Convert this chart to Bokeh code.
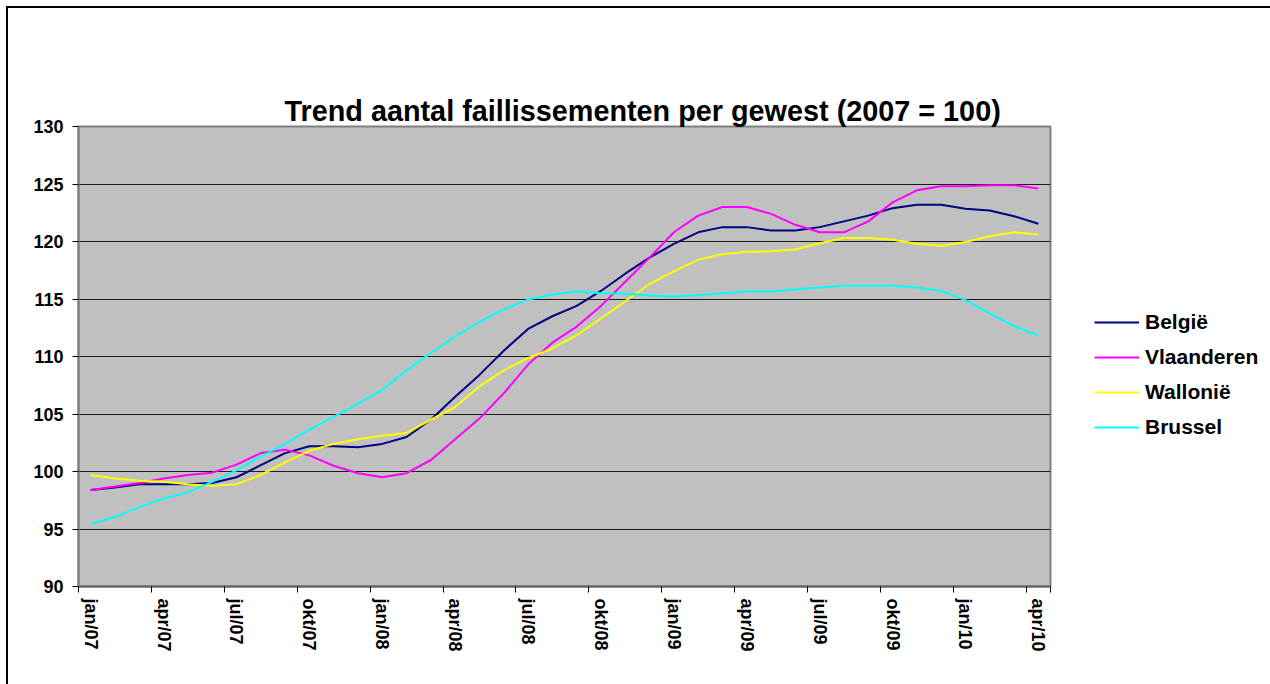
from bokeh.plotting import figure
from bokeh.layouts import row
from bokeh.models import Range1d, FixedTicker, Legend, LegendItem, Title
from bokeh.embed import file_html
from bokeh.resources import INLINE

# ---- data -------------------------------------------------------------
tick_labels = ["jan/07", "apr/07", "jul/07", "okt/07", "jan/08", "apr/08", "jul/08",
               "okt/08", "jan/09", "apr/09", "jul/09", "okt/09", "jan/10", "apr/10"]
months = list(range(40))  # jan/07 .. apr/10, monthly

belgie = [98.4, 98.6, 98.9, 98.9, 98.9, 99.0, 99.5, 100.55, 101.6, 102.2,
          102.2, 102.1, 102.4, 103.0, 104.5, 106.5, 108.4, 110.5, 112.4, 113.5,
          114.4, 115.7, 117.2, 118.6, 119.8, 120.8, 121.25, 121.25, 120.95, 120.95,
          121.25, 121.75, 122.25, 122.9, 123.2, 123.2, 122.85, 122.7, 122.2, 121.55]
vlaanderen = [98.4, 98.7, 99.0, 99.4, 99.7, 99.9, 100.6, 101.6, 101.9, 101.4,
              100.5, 99.85, 99.5, 99.85, 101.0, 102.8, 104.6, 106.8, 109.3, 111.2,
              112.6, 114.4, 116.5, 118.6, 120.8, 122.25, 123.0, 123.0, 122.4, 121.45,
              120.8, 120.8, 121.75, 123.4, 124.45, 124.8, 124.8, 124.9, 124.9, 124.6]
wallonie = [99.7, 99.4, 99.2, 99.1, 98.9, 98.75, 98.9, 99.7, 100.8, 101.8,
            102.4, 102.8, 103.1, 103.35, 104.5, 105.6, 107.4, 108.8, 109.85, 110.7,
            111.85, 113.3, 114.8, 116.3, 117.4, 118.4, 118.9, 119.1, 119.15, 119.3,
            119.85, 120.3, 120.3, 120.15, 119.8, 119.6, 119.95, 120.45, 120.8, 120.6]
brussel = [95.4, 96.06, 96.9, 97.65, 98.2, 99.1, 100.1, 101.3, 102.4, 103.65,
           104.75, 105.9, 107.1, 108.8, 110.3, 111.75, 113.0, 114.1, 114.95, 115.4,
           115.65, 115.5, 115.45, 115.3, 115.2, 115.35, 115.5, 115.65, 115.65, 115.85,
           116.0, 116.15, 116.15, 116.15, 116.0, 115.7, 114.9, 113.75, 112.65, 111.8]

series_names = ["België", "Vlaanderen", "Wallonië", "Brussel"]
series_values = [belgie, vlaanderen, wallonie, brussel]
series_colors = ["#000080", "#FF00FF", "#FFFF00", "#00FFFF"]

FONT = "Liberation Sans"

# ---- main chart -------------------------------------------------------
p = figure(width=1052, height=684, output_backend="svg", toolbar_location=None,
           x_range=Range1d(-0.5, 39.5), y_range=Range1d(90, 130),
           min_border_left=78, min_border_right=2, min_border_top=126,
           min_border_bottom=98)

p.background_fill_color = "#C0C0C0"
p.outline_line_color = "#808080"
p.outline_line_width = 2
p.border_fill_alpha = 0
p.styles = {"box-shadow": "inset 6px 6px 0 0 #FFFFFF, inset 8px 8px 0 0 #000000",
            "background-color": "#FFFFFF"}

# x axis: labels every 3 months at category centres, tick marks at category borders
label_pos = list(range(0, 40, 3))
p.xaxis.ticker = FixedTicker(ticks=label_pos,
                             minor_ticks=[k - 0.5 for k in range(0, 40, 3)] + [39.5])
p.xaxis.major_label_overrides = {i: t for i, t in zip(label_pos, tick_labels)}
p.xaxis.major_label_orientation = "vertical"
p.xaxis.major_tick_line_color = None
p.xaxis.major_tick_out = 6
p.xaxis.major_tick_in = 0
p.xaxis.minor_tick_out = 6
p.xaxis.minor_tick_in = 0
p.xaxis.minor_tick_line_color = "#000000"
p.xaxis.major_label_standoff = 6
p.xaxis.major_label_text_font = FONT
p.xaxis.major_label_text_font_style = "bold"
p.xaxis.major_label_text_font_size = "18px"
p.xaxis.major_label_text_color = "#000000"
p.xaxis.axis_line_color = "#606060"
p.xaxis.axis_line_width = 2

p.yaxis.ticker = FixedTicker(ticks=list(range(90, 131, 5)))
p.yaxis.major_tick_out = 6
p.yaxis.major_tick_in = 0
p.yaxis.minor_tick_line_color = None
p.yaxis.major_tick_line_color = "#000000"
p.yaxis.major_label_standoff = 9
p.yaxis.major_label_text_font = FONT
p.yaxis.major_label_text_font_style = "bold"
p.yaxis.major_label_text_font_size = "18px"
p.yaxis.major_label_text_color = "#000000"
p.yaxis.axis_line_color = "#808080"
p.yaxis.axis_line_width = 2

p.xgrid.visible = False
p.ygrid.grid_line_color = "#000000"
p.ygrid.grid_line_width = 1
p.ygrid.grid_line_alpha = 0.85

p.add_layout(Title(text="Trend aantal faillissementen per gewest (2007 = 100)",
                   align="left", offset=206, standoff=0,
                   text_font=FONT, text_font_style="bold", text_font_size="28.8px",
                   text_color="#000000"), "above")
# invisible spacer panel between frame and title (pushes the title upwards)
p.add_layout(Title(text=".", standoff=43, text_font=FONT, text_font_size="10px",
                   text_alpha=0), "above")

for vals, col in zip(series_values, series_colors):
    p.line(months, vals, line_color=col, line_width=2)

# ---- legend panel (right of the chart) ---------------------------------
q = figure(width=218, height=684, output_backend="svg", toolbar_location=None,
           x_range=Range1d(0, 1), y_range=Range1d(0, 1),
           min_border_left=0, min_border_right=0, min_border_top=0, min_border_bottom=0)
q.axis.visible = False
q.grid.visible = False
q.outline_line_color = None
q.background_fill_color = "#FFFFFF"
q.border_fill_alpha = 0
q.styles = {"box-shadow": "inset 0 6px 0 0 #FFFFFF, inset 0 8px 0 0 #000000",
            "background-color": "#FFFFFF"}

items = []
for name, vals, col in zip(series_names, series_values, series_colors):
    # same series, outside this panel's visible range: only its legend sample shows
    r = q.line(months, vals, line_color=col, line_width=2)
    items.append(LegendItem(label=name, renderers=[r]))

legend = Legend(items=items, location=(42, 147), orientation="vertical",
                border_line_color=None, background_fill_alpha=0,
                label_text_font=FONT, label_text_font_style="bold",
                label_text_font_size="21px", label_text_color="#000000",
                glyph_width=45, glyph_height=20, label_height=20,
                label_standoff=6, spacing=11, padding=0, margin=0)
q.add_layout(legend)

layout = row(p, q, spacing=0)
open("out.html", "w").write(file_html(layout, INLINE))
